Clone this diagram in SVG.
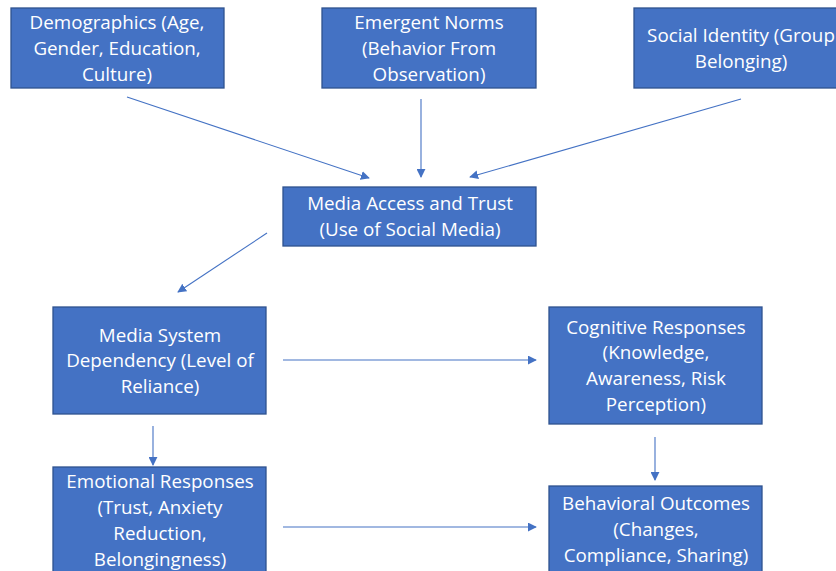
<svg xmlns="http://www.w3.org/2000/svg" width="836" height="571" viewBox="0 0 836 571">
<style>
.box{fill:#4472C4;stroke:#2F528F;stroke-width:1.3}
.t{fill:#fff;font-family:"Open Sans","Liberation Sans",Arial,sans-serif;font-size:18.8px;text-anchor:middle}
.c{stroke:#4472C4;stroke-width:1.1;fill:none;marker-end:url(#ah)}
</style>
<defs>
<marker id="ah" viewBox="0 0 10 10" refX="9" refY="5" markerWidth="9" markerHeight="9" markerUnits="userSpaceOnUse" orient="auto">
<path d="M0,0 L10,5 L0,10 z" fill="#4472C4"/>
</marker>
</defs>
<rect width="836" height="571" fill="#fff"/>
<g id="connectors">
<line class="c" x1="127" y1="97" x2="369" y2="178"/>
<line class="c" x1="421" y1="99" x2="421" y2="177"/>
<line class="c" x1="741" y1="99" x2="470" y2="177"/>
<line class="c" x1="267" y1="233" x2="178" y2="292"/>
<line class="c" x1="283" y1="360" x2="536" y2="360"/>
<line class="c" x1="153" y1="426" x2="153" y2="465"/>
<line class="c" x1="655" y1="437" x2="655" y2="480"/>
<line class="c" x1="283" y1="527" x2="536" y2="527"/>
</g>
<g id="demographics">
<rect class="box" x="11" y="8" width="213" height="80"/>
<text class="t" x="117" y="29">Demographics (Age,</text>
<text class="t" x="117" y="55">Gender, Education,</text>
<text class="t" x="117" y="81">Culture)</text>
</g>
<g id="emergent-norms">
<rect class="box" x="322" y="8" width="214" height="80"/>
<text class="t" x="429" y="29">Emergent Norms</text>
<text class="t" x="429" y="55">(Behavior From</text>
<text class="t" x="429" y="81">Observation)</text>
</g>
<g id="social-identity">
<rect class="box" x="634" y="8" width="214" height="80"/>
<text class="t" x="741" y="42">Social Identity (Group</text>
<text class="t" x="741" y="68">Belonging)</text>
</g>
<g id="media-access">
<rect class="box" x="283" y="187" width="253" height="59"/>
<text class="t" x="410" y="210">Media Access and Trust</text>
<text class="t" x="410" y="236">(Use of Social Media)</text>
</g>
<g id="media-dependency">
<rect class="box" x="53" y="307" width="213" height="107"/>
<text class="t" x="160" y="342">Media System</text>
<text class="t" x="160" y="367">Dependency (Level of</text>
<text class="t" x="160" y="393">Reliance)</text>
</g>
<g id="cognitive">
<rect class="box" x="549" y="307" width="213" height="117"/>
<text class="t" x="656" y="334">Cognitive Responses</text>
<text class="t" x="656" y="359">(Knowledge,</text>
<text class="t" x="656" y="385">Awareness, Risk</text>
<text class="t" x="656" y="411">Perception)</text>
</g>
<g id="emotional">
<rect class="box" x="53" y="467" width="213" height="110"/>
<text class="t" x="160" y="488">Emotional Responses</text>
<text class="t" x="160" y="514">(Trust, Anxiety</text>
<text class="t" x="160" y="540">Reduction,</text>
<text class="t" x="160" y="566">Belongingness)</text>
</g>
<g id="behavioral">
<rect class="box" x="549" y="486" width="213" height="90"/>
<text class="t" x="656" y="510">Behavioral Outcomes</text>
<text class="t" x="656" y="536">(Changes,</text>
<text class="t" x="656" y="562">Compliance, Sharing)</text>
</g>
</svg>
